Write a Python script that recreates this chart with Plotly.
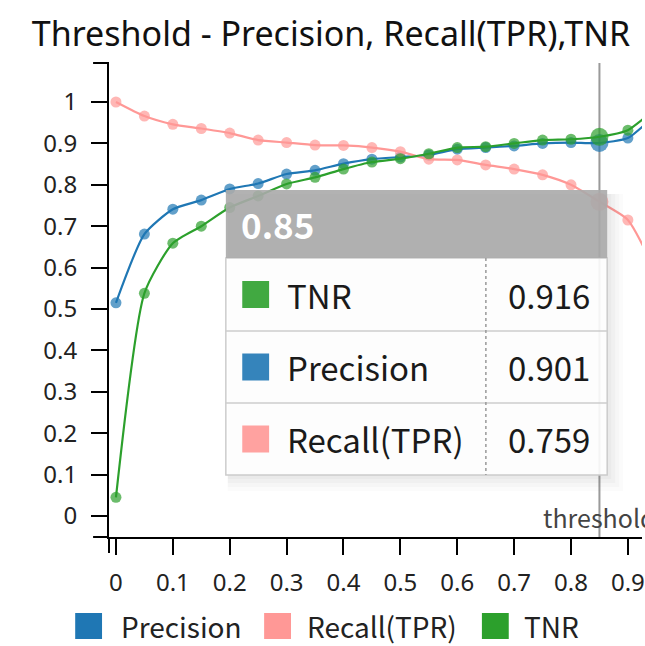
import plotly.graph_objects as go

# Threshold sweep and the three rates measured at each step
thresholds = [0.00, 0.05, 0.10, 0.15, 0.20, 0.25, 0.30, 0.35, 0.40, 0.45, 0.50,
              0.55, 0.60, 0.65, 0.70, 0.75, 0.80, 0.85, 0.90, 0.95, 1.00]
precision = [0.515, 0.681, 0.741, 0.763, 0.790, 0.803, 0.826, 0.835, 0.851, 0.862, 0.867,
             0.872, 0.886, 0.890, 0.894, 0.900, 0.902, 0.901, 0.913, 0.967, 0.985]
recall = [1.000, 0.966, 0.946, 0.936, 0.925, 0.908, 0.902, 0.896, 0.895, 0.890, 0.880,
          0.862, 0.860, 0.848, 0.838, 0.824, 0.800, 0.759, 0.715, 0.585, 0.400]
tnr = [0.045, 0.538, 0.659, 0.700, 0.745, 0.773, 0.802, 0.818, 0.838, 0.855, 0.863,
       0.875, 0.890, 0.892, 0.900, 0.908, 0.910, 0.916, 0.932, 0.982, 0.997]

series_names = ["Precision", "Recall(TPR)", "TNR"]
series_colors = ["#1f77b4", "#ff9896", "#2ca02c"]
series_values = [precision, recall, tnr]

y_tickvals = [0, 0.1, 0.2, 0.3, 0.4, 0.5, 0.6, 0.7, 0.8, 0.9, 1.0]
y_ticktext = ["0", "0.1", "0.2", "0.3", "0.4", "0.5", "0.6", "0.7", "0.8", "0.9", "1"]
x_tickvals = [0, 0.1, 0.2, 0.3, 0.4, 0.5, 0.6, 0.7, 0.8, 0.9]
x_ticktext = ["0", "0.1", "0.2", "0.3", "0.4", "0.5", "0.6", "0.7", "0.8", "0.9"]

selected_threshold = 0.85
title_text = "Threshold - Precision, Recall(TPR),TNR"
FONT = "Noto Sans CJK KR"
FONT_WIDE = "Noto Sans"

# Figure geometry (pixels)
FIG_W, FIG_H = 645, 646
L, R, T, B = 109, 645, 63, 537
PW, PH = R - L, B - T


def px(x):
    return (x - L) / PW


def py(y):
    return (B - y) / PH


fig = go.Figure()

sel_idx = thresholds.index(selected_threshold)
for name, color, vals in zip(series_names, series_colors, series_values):
    sizes = [18 if i == sel_idx else 11 for i in range(len(thresholds))]
    fig.add_trace(go.Scatter(
        x=thresholds, y=vals, name=name, mode="lines+markers",
        line=dict(color=color, width=2.2, shape="spline", smoothing=0.6),
        marker=dict(color=color, size=sizes, line=dict(width=0)),
        showlegend=False, hoverinfo="skip",
    ))

shapes = []
# vertical marker line at the chosen threshold
shapes.append(dict(type="line", xref="x", yref="paper", x0=selected_threshold, x1=selected_threshold,
                   y0=0, y1=1, line=dict(color="#9a9a9a", width=2), layer="below"))
# outer domain ticks of the axes
for (x0, y0, x1, y1) in [(93, 63, 109, 63), (93, 537, 109, 537), (109, 537, 109, 553)]:
    shapes.append(dict(type="line", xref="paper", yref="paper", x0=px(x0), y0=py(y0),
                       x1=px(x1), y1=py(y1), line=dict(color="black", width=2)))

# tooltip panel
tx0, tx1, ty0, ty1 = 226.5, 610, 190, 475
head_b = 258
row_edges = [258, 331, 403, 475]
for k, a in zip([16, 12, 8, 4], [0.025, 0.03, 0.035, 0.04]):
    shapes.append(dict(type="rect", xref="paper", yref="paper",
                       x0=px(tx0 + 2), x1=px(tx1 + k), y0=py(ty0 + 4), y1=py(ty1 + k),
                       fillcolor=f"rgba(90,90,90,{a})", line=dict(width=0)))
shapes.append(dict(type="rect", xref="paper", yref="paper", x0=px(tx0), x1=px(tx1),
                   y0=py(ty1), y1=py(head_b), fillcolor="rgba(255,255,255,0.9)",
                   line=dict(color="#cccccc", width=1.5)))
shapes.append(dict(type="rect", xref="paper", yref="paper", x0=px(tx0), x1=px(tx1),
                   y0=py(head_b), y1=py(ty0), fillcolor="rgba(170,170,170,0.9)",
                   line=dict(width=0)))
for ye in row_edges[1:-1]:
    shapes.append(dict(type="line", xref="paper", yref="paper", x0=px(tx0), x1=px(tx1),
                       y0=py(ye), y1=py(ye), line=dict(color="#cccccc", width=1.5)))
shapes.append(dict(type="line", xref="paper", yref="paper", x0=px(488), x1=px(488),
                   y0=py(head_b), y1=py(ty1), line=dict(color="#999999", width=1.5, dash="dot")))

annotations = []
annotations.append(dict(text="<b>%s</b>" % format(selected_threshold, "g"), xref="paper", yref="paper",
                        x=px(240), y=py(224), xanchor="left", yanchor="middle", showarrow=False,
                        font=dict(family=FONT, size=35, color="white")))

# tooltip rows, ordered by value at the selected threshold
row_order = sorted(range(3), key=lambda i: -series_values[i][sel_idx])
for r, i in enumerate(row_order):
    yc = (row_edges[r] + row_edges[r + 1]) / 2
    shapes.append(dict(type="rect", xref="paper", yref="paper", x0=px(243), x1=px(270),
                       y0=py(yc + 13.5), y1=py(yc - 13.5), fillcolor=series_colors[i],
                       opacity=0.9, line=dict(width=0)))
    annotations.append(dict(text=series_names[i], xref="paper", yref="paper", x=px(286), y=py(yc),
                            xanchor="left", yanchor="middle", showarrow=False,
                            font=dict(family=FONT, size=33, color="#1a1a1a")))
    annotations.append(dict(text="%.3f" % series_values[i][sel_idx], xref="paper", yref="paper",
                            x=px(595), y=py(yc), xanchor="right", yanchor="middle", showarrow=False,
                            font=dict(family=FONT, size=33, color="#1a1a1a")))

# label of the threshold line
annotations.append(dict(text="threshold", xref="x", yref="paper", x=selected_threshold, y=py(517),
                        xanchor="left", yanchor="middle", xshift=-58, showarrow=False,
                        font=dict(family=FONT, size=25, color="#444444")))

# legend row
legend_x = [(75, 121), (265, 308), (484, 526)]
legend_yc = 626
for (sx, tx), name, color in zip(legend_x, series_names, series_colors):
    shapes.append(dict(type="rect", xref="paper", yref="paper", x0=px(sx), x1=px(sx + 27),
                       y0=py(legend_yc + 13), y1=py(legend_yc - 13), fillcolor=color,
                       line=dict(width=0)))
    annotations.append(dict(text=name, xref="paper", yref="paper", x=px(tx - 2), y=py(legend_yc),
                            xanchor="left", yanchor="middle", showarrow=False,
                            font=dict(family=FONT, size=28, color="#222222")))

axis_common = dict(showgrid=False, zeroline=False, showline=True, linecolor="black", linewidth=2,
                   ticks="outside", ticklen=16, tickwidth=2, tickcolor="black",
                   ticklabeloverflow="allow",
                   tickfont=dict(family=FONT_WIDE, size=24, color="#222222"))

fig.update_layout(
    width=FIG_W, height=FIG_H,
    margin=dict(l=L, r=FIG_W - R, t=T, b=FIG_H - B),
    paper_bgcolor="white", plot_bgcolor="white",
    title=dict(text=title_text, x=331 / FIG_W, xanchor="center", y=1 - 34 / FIG_H, yanchor="middle",
               xref="container", yref="container",
               font=dict(family=FONT_WIDE, size=34, color="#111111")),
    xaxis=dict(range=[(L - 116) / 572, (R - 116) / 572], tickvals=x_tickvals, ticktext=x_ticktext,
               ticklabelstandoff=7, **axis_common),
    yaxis=dict(range=[(516 - B) / 414, (516 - T) / 414], tickvals=y_tickvals, ticktext=y_ticktext,
               ticklabelstandoff=9, **axis_common),
    shapes=shapes, annotations=annotations, showlegend=False,
)

fig.write_html("out.html")
